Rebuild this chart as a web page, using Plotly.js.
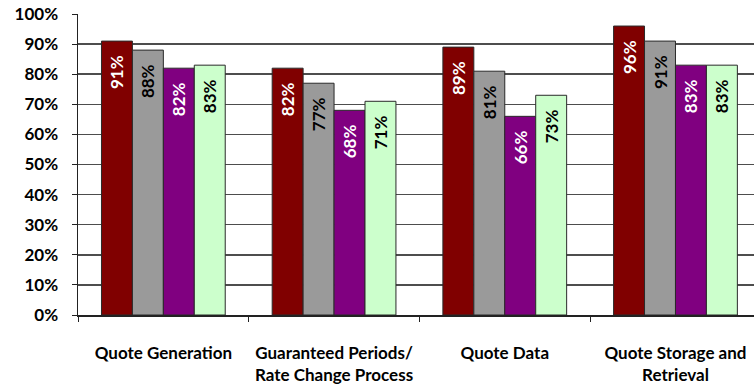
<!DOCTYPE html>
<html>
<head>
<meta charset="utf-8">
<script src="https://cdn.plot.ly/plotly-3.0.1.min.js"></script>
<style>
  html, body { margin: 0; padding: 0; background: #ffffff; }
  #chart { width: 754px; height: 385px; }
</style>
</head>
<body>
<div id="chart"></div>
<script>
// Category labels along the x axis
const categories = [
  'Quote Generation',
  'Guaranteed Periods/<br>Rate Change Process',
  'Quote Data',
  'Quote Storage and<br>Retrieval'
];

// Percentages for each of the four series
const seriesA = [91, 82, 89, 96];
const seriesB = [88, 77, 81, 91];
const seriesC = [82, 68, 66, 83];
const seriesD = [83, 71, 73, 83];

const seriesNames = ['Series 1', 'Series 2', 'Series 3', 'Series 4'];
const seriesValues = [seriesA, seriesB, seriesC, seriesD];
const fillColors = ['#800000', '#9a9a9a', '#800080', '#ccffcc'];
const labelColors = ['#ffffff', '#000000', '#ffffff', '#000000'];

const FONT = 'Lato, "Open Sans", "DejaVu Sans", sans-serif';

const traces = seriesValues.map((vals, i) => ({
  type: 'bar',
  name: seriesNames[i],
  x: categories,
  y: vals,
  // value labels, padded at the end so they sit a little below the bar top
  text: vals.map(v => v + '%\u2002\u2006'),
  textposition: 'inside',
  insidetextanchor: 'end',
  textangle: -90,
  constraintext: 'none',
  textfont: { family: FONT, size: 17, weight: 700, color: labelColors[i] },
  marker: { color: fillColors[i], line: { color: '#2a2a2a', width: 1 } },
  hoverinfo: 'skip'
}));

const layout = {
  width: 754,
  height: 385,
  margin: { l: 78, r: 0, t: 14, b: 70 },
  paper_bgcolor: '#ffffff',
  plot_bgcolor: '#ffffff',
  showlegend: false,
  barmode: 'group',
  bargap: 0.275,
  bargroupgap: 0,
  font: { family: FONT, size: 17, color: '#000000', weight: 700 },
  xaxis: {
    type: 'category',
    range: [-0.5, 3.46],
    showline: true,
    linecolor: '#222222',
    linewidth: 1.5,
    ticks: 'outside',
    tickson: 'boundaries',
    ticklen: 5,
    tickcolor: '#222222',
    showgrid: false,
    tickfont: { family: FONT, size: 17, weight: 700, color: '#000000' },
    ticklabelstandoff: 22
  },
  yaxis: {
    range: [0, 100],
    tick0: 0,
    dtick: 10,
    ticksuffix: '%',
    showline: true,
    linecolor: '#222222',
    linewidth: 1.5,
    ticks: 'outside',
    ticklen: 5,
    tickcolor: '#222222',
    showgrid: true,
    gridcolor: '#4d4d4d',
    gridwidth: 1.5,
    zeroline: false,
    tickfont: { family: FONT, size: 17, weight: 700, color: '#000000' },
    ticklabelstandoff: 10
  }
};

Plotly.newPlot('chart', traces, layout, { displayModeBar: false, staticPlot: true });
</script>
</body>
</html>
